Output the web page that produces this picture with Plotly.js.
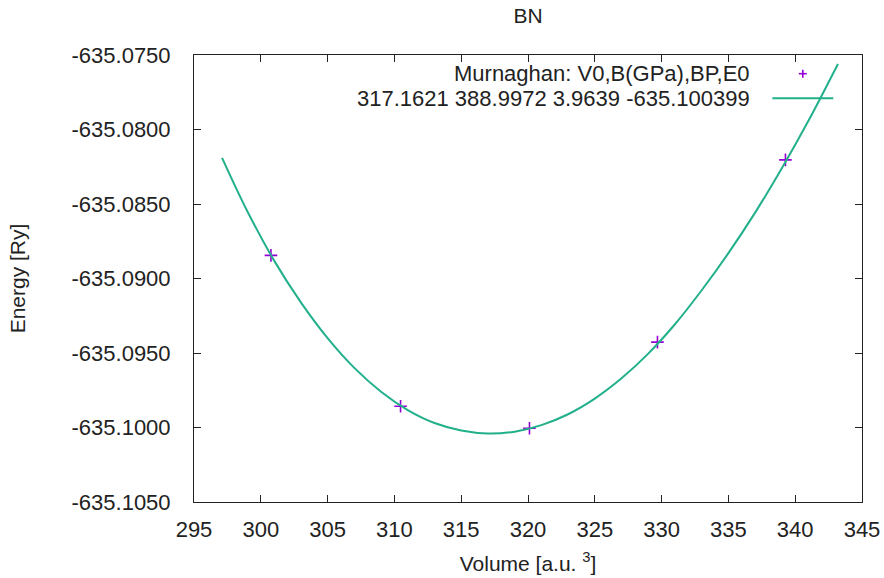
<!DOCTYPE html>
<html>
<head>
<meta charset="utf-8">
<script src="https://cdn.plot.ly/plotly-3.0.1.min.js"></script>
<style>html,body{margin:0;padding:0;background:#fff;}#chart{width:884px;height:578px;}</style>
</head>
<body>
<div id="chart"></div>
<script>
// Measured data points (volume, energy)
const volumes = [300.76, 310.46, 320.11, 329.69, 339.27];
const energies = [-635.08845, -635.09857, -635.10005, -635.09427, -635.08204];

// Fitted Murnaghan curve
const fitVolumes = [297.1, 299, 301, 303, 305, 307, 309, 311, 313, 315, 317,
                    319, 321, 323, 325, 327, 329, 331, 333, 335, 337, 339, 341, 343.2];
const fitEnergies = [-635.0819, -635.0855, -635.0888, -635.0916, -635.0940, -635.0960, -635.0976, -635.09883, -635.0997, -635.1002, -635.1004,
                     -635.10028, -635.09984, -635.09911, -635.09806, -635.0967, -635.09504, -635.09307, -635.09079, -635.0883, -635.08558, -635.0826, -635.0794, -635.0756];

// Tick labels
const xTicks = [295, 300, 305, 310, 315, 320, 325, 330, 335, 340, 345];
const yTicks = [-635.105, -635.100, -635.095, -635.090, -635.085, -635.080, -635.075];
const yTickText = ["-635.1050", "-635.1000", "-635.0950", "-635.0900", "-635.0850", "-635.0800", "-635.0750"];

const legendLine1 = "Murnaghan: V0,B(GPa),BP,E0";
const legendLine2 = "317.1621 388.9972 3.9639 -635.100399";

const FONT = "Liberation Sans, Arial, sans-serif";
const pointColor = "#9400d3";
const lineColor = "#22b08b";

const traces = [
  {
    x: volumes, y: energies, type: "scatter", mode: "markers",
    marker: {symbol: "cross-thin", size: 9, color: pointColor, line: {color: pointColor, width: 1.6}},
    showlegend: false, hoverinfo: "x+y"
  },
  {
    x: fitVolumes, y: fitEnergies, type: "scatter", mode: "lines",
    line: {color: lineColor, width: 2, shape: "spline", smoothing: 1},
    showlegend: false, hoverinfo: "x+y"
  }
];

const L = 193.5, R = 861.7, T = 55.3, B = 502.3;
const px = v => (v - L) / (R - L);
const py = v => (B - v) / (B - T);

const layout = {
  width: 884, height: 578,
  margin: {l: L, r: 884 - R, t: T, b: 578 - B, pad: 0},
  paper_bgcolor: "#fff", plot_bgcolor: "#fff",
  font: {family: FONT, size: 22, color: "#222"},
  title: {text: "BN", x: px(527.6), xref: "paper", y: 1 - 16 / 578, yref: "container", yanchor: "middle",
          font: {family: FONT, size: 21, color: "#222"}},
  xaxis: {
    range: [295, 345], tickvals: xTicks, ticks: "inside", ticklen: 7, tickcolor: "#222", tickwidth: 1,
    showline: true, linecolor: "#222", linewidth: 1, mirror: "ticks", showgrid: false, zeroline: false,
    ticklabelstandoff: 8,
    tickfont: {family: FONT, size: 22, color: "#222"},
    title: {text: "Volume [a.u. <sup>3</sup>]", standoff: 14, font: {family: FONT, size: 21, color: "#222"}}
  },
  yaxis: {
    range: [-635.105, -635.075], tickvals: yTicks, ticktext: yTickText, ticks: "inside", ticklen: 7, tickcolor: "#222", tickwidth: 1,
    showline: true, linecolor: "#222", linewidth: 1, mirror: "ticks", showgrid: false, zeroline: false,
    ticklabelstandoff: 18,
    tickfont: {family: FONT, size: 22, color: "#222"},
    title: {text: "Energy [Ry]", standoff: 40, font: {family: FONT, size: 21, color: "#222"}}
  },
  annotations: [
    {text: legendLine1, xref: "paper", yref: "paper", x: px(752), y: py(74), xanchor: "right", yanchor: "middle",
     showarrow: false, font: {family: FONT, size: 22, color: "#222"}},
    {text: legendLine2, xref: "paper", yref: "paper", x: px(752), y: py(99), xanchor: "right", yanchor: "middle",
     showarrow: false, font: {family: FONT, size: 22, color: "#222"}}
  ],
  shapes: [
    {type: "line", xref: "paper", yref: "paper", x0: px(772), x1: px(833), y0: py(98.5), y1: py(98.5),
     line: {color: lineColor, width: 2}},
    {type: "line", xref: "paper", yref: "paper", x0: px(798.5), x1: px(806.5), y0: py(74), y1: py(74),
     line: {color: pointColor, width: 1.6}},
    {type: "line", xref: "paper", yref: "paper", x0: px(802.5), x1: px(802.5), y0: py(70), y1: py(78),
     line: {color: pointColor, width: 1.6}}
  ]
};

Plotly.newPlot("chart", traces, layout, {displayModeBar: false, staticPlot: true});
</script>
</body>
</html>
